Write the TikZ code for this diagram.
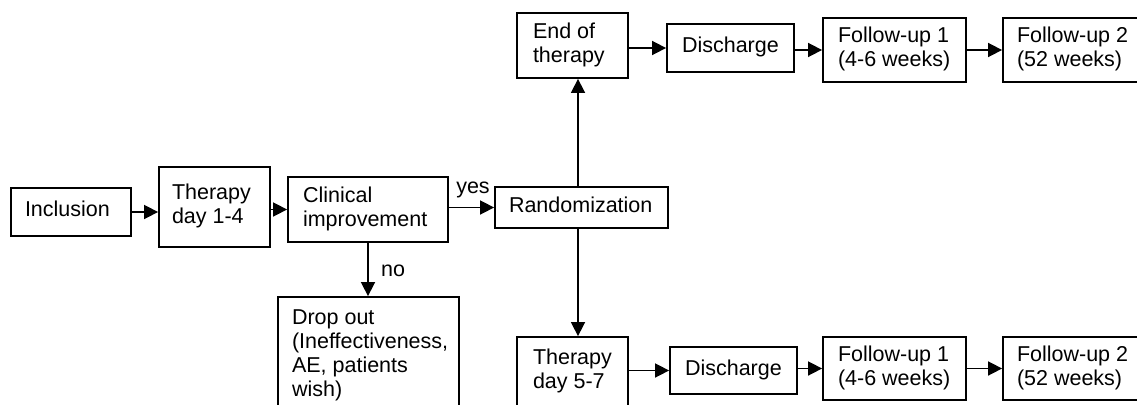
\documentclass[tikz,border=0pt]{standalone}
\usepackage{fontspec}
\setmainfont{Liberation Sans}
\usetikzlibrary{arrows.meta}
\begin{document}
\begin{tikzpicture}[x=1pt,y=-1pt,
  every node/.style={font=\fontsize{21.5}{24}\selectfont},
  box/.style={draw,line width=1.8pt,rectangle,inner sep=0pt},
  arr/.style={line width=1.6pt,-{Triangle[length=14pt,width=14pt]}},
  lbl/.style={inner sep=0pt}]
\useasboundingbox (0,0) rectangle (1137,404);
\clip (0,0) rectangle (1137,404);
\newcommand{\bx}[7]{% name, x1,y1,x2,y2, inset, text
  \node[box,minimum height=#5pt-#3pt]
    (#1) at ({(#2+#4)/2},{(#3+#5)/2})
    {\makebox[\dimexpr#4pt-#2pt\relax][l]{\hspace*{#6pt}\begin{tabular}{@{}l@{}}#7\end{tabular}}};}
\bx{inc}{11}{188}{131}{236}{14}{Inclusion}
\bx{t14}{159}{167}{270}{247}{13}{Therapy\\day 1-4}
\bx{ci}{288}{177}{448}{242}{15}{Clinical\\improvement}
\bx{rand}{495}{187}{668}{228}{14}{Randomization}
\bx{drop}{278}{297}{459}{415}{14}{Drop out\\(Ineffectiveness,\\AE, patients\\wish)}
\bx{eot}{517}{13}{628}{78}{16}{End of\\therapy}
\bx{disa}{667}{24}{794}{72}{15}{Discharge}
\bx{fua}{823}{18}{966}{82}{15}{Follow-up 1\\(4-6 weeks)}
\bx{fub}{1003}{18}{1150}{82}{14}{Follow-up 2\\(52 weeks)}
\bx{t57}{517}{337}{628}{407}{16}{Therapy\\day 5-7}
\bx{disb}{670}{347}{797}{394}{15}{Discharge}
\bx{fuc}{823}{337}{966}{400}{15}{Follow-up 1\\(4-6 weeks)}
\bx{fud}{1003}{337}{1150}{400}{14}{Follow-up 2\\(52 weeks)}
\coordinate (vx) at (578,0);
\draw[arr] (inc.east) -- (t14.west |- inc.east);
\draw[arr] (t14.east |- ci.west) -- (ci.west);
\draw[arr] (ci.east |- rand.west) -- (rand.west);
\draw[arr] (ci.south) -- (ci.south |- drop.north);
\draw[arr] (vx |- rand.north) -- (vx |- eot.south);
\draw[arr] (vx |- rand.south) -- (vx |- t57.north);
\draw[arr] (eot.east |- disa.west) -- (disa.west);
\draw[arr] (disa.east |- fua.west) -- (fua.west);
\draw[arr] (fua.east) -- (fub.west);
\draw[arr] (t57.east |- disb.west) -- (disb.west);
\draw[arr] (disb.east |- fuc.west) -- (fuc.west);
\draw[arr] (fuc.east) -- (fud.west);
\node[lbl] (yes) at (473,190) {yes};
\node[lbl] (no) at (393,271) {no};
\end{tikzpicture}
\end{document}
